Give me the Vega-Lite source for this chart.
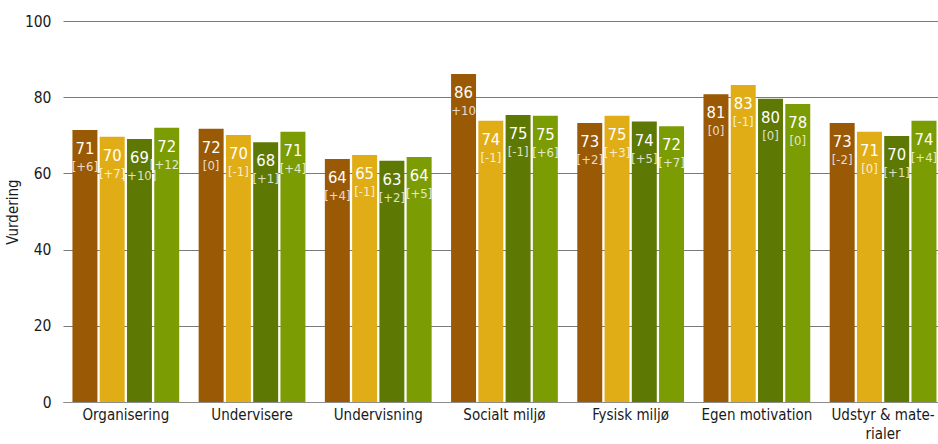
{
  "$schema": "https://vega.github.io/schema/vega-lite/v6.json",
  "autosize": "none",
  "width": 875,
  "height": 381,
  "padding": {"left": 63, "top": 21, "right": 0, "bottom": 42},
  "background": "white",
  "config": {
    "font": "DejaVu Sans Condensed",
    "view": {"stroke": null}
  },
  "data": {
    "values": [
      {"kategori": "Organisering", "serie": "S1", "vurdering": 71.4, "aendring": "[+6]"},
      {"kategori": "Organisering", "serie": "S2", "vurdering": 69.6, "aendring": "[+7]"},
      {"kategori": "Organisering", "serie": "S3", "vurdering": 69.0, "aendring": "[+10]"},
      {"kategori": "Organisering", "serie": "S4", "vurdering": 72.0, "aendring": "[+12]"},
      {"kategori": "Undervisere", "serie": "S1", "vurdering": 71.7, "aendring": "[0]"},
      {"kategori": "Undervisere", "serie": "S2", "vurdering": 70.1, "aendring": "[-1]"},
      {"kategori": "Undervisere", "serie": "S3", "vurdering": 68.2, "aendring": "[+1]"},
      {"kategori": "Undervisere", "serie": "S4", "vurdering": 70.9, "aendring": "[+4]"},
      {"kategori": "Undervisning", "serie": "S1", "vurdering": 63.8, "aendring": "[+4]"},
      {"kategori": "Undervisning", "serie": "S2", "vurdering": 64.8, "aendring": "[-1]"},
      {"kategori": "Undervisning", "serie": "S3", "vurdering": 63.3, "aendring": "[+2]"},
      {"kategori": "Undervisning", "serie": "S4", "vurdering": 64.3, "aendring": "[+5]"},
      {"kategori": "Socialt miljø", "serie": "S1", "vurdering": 86.1, "aendring": "[+10]"},
      {"kategori": "Socialt miljø", "serie": "S2", "vurdering": 73.8, "aendring": "[-1]"},
      {"kategori": "Socialt miljø", "serie": "S3", "vurdering": 75.3, "aendring": "[-1]"},
      {"kategori": "Socialt miljø", "serie": "S4", "vurdering": 75.1, "aendring": "[+6]"},
      {"kategori": "Fysisk miljø", "serie": "S1", "vurdering": 73.2, "aendring": "[+2]"},
      {"kategori": "Fysisk miljø", "serie": "S2", "vurdering": 75.1, "aendring": "[+3]"},
      {"kategori": "Fysisk miljø", "serie": "S3", "vurdering": 73.6, "aendring": "[+5]"},
      {"kategori": "Fysisk miljø", "serie": "S4", "vurdering": 72.4, "aendring": "[+7]"},
      {"kategori": "Egen motivation", "serie": "S1", "vurdering": 80.8, "aendring": "[0]"},
      {"kategori": "Egen motivation", "serie": "S2", "vurdering": 83.2, "aendring": "[-1]"},
      {"kategori": "Egen motivation", "serie": "S3", "vurdering": 79.6, "aendring": "[0]"},
      {"kategori": "Egen motivation", "serie": "S4", "vurdering": 78.2, "aendring": "[0]"},
      {"kategori": "Udstyr & materialer", "serie": "S1", "vurdering": 73.2, "aendring": "[-2]"},
      {"kategori": "Udstyr & materialer", "serie": "S2", "vurdering": 70.9, "aendring": "[0]"},
      {"kategori": "Udstyr & materialer", "serie": "S3", "vurdering": 69.8, "aendring": "[+1]"},
      {"kategori": "Udstyr & materialer", "serie": "S4", "vurdering": 73.8, "aendring": "[+4]"}
    ]
  },
  "encoding": {
    "x": {
      "field": "kategori",
      "type": "nominal",
      "sort": null,
      "scale": {"paddingInner": 0.154, "paddingOuter": 0.0435, "align": 0.86},
      "axis": {
        "title": null,
        "labelAngle": 0,
        "labelFontSize": 15,
        "labelColor": "#1a1a1a",
        "labelPadding": 5,
        "labelLineHeight": 19,
        "labelBaseline": "top",
        "ticks": false,
        "domainColor": "#8c8c8c",
        "domainWidth": 1,
        "labelExpr": "datum.value == 'Udstyr & materialer' ? ['Udstyr & mate-', 'rialer'] : datum.label"
      }
    },
    "xOffset": {
      "field": "serie",
      "type": "nominal",
      "scale": {"paddingInner": 0.084, "paddingOuter": 0}
    },
    "y": {
      "field": "vurdering",
      "type": "quantitative",
      "scale": {"domain": [0, 100], "nice": false},
      "axis": {
        "title": "Vurdering",
        "titleFontSize": 15,
        "titleFontWeight": "normal",
        "titleColor": "#1a1a1a",
        "titlePadding": 4,
        "values": [0, 20, 40, 60, 80, 100],
        "labelFontSize": 15.5,
        "labelColor": "#1a1a1a",
        "labelPadding": 12,
        "ticks": false,
        "domain": false,
        "grid": true,
        "gridColor": "#7a7a7a",
        "gridWidth": 1
      }
    }
  },
  "layer": [
    {
      "mark": {"type": "bar"},
      "encoding": {
        "color": {
          "field": "serie",
          "type": "nominal",
          "legend": null,
          "scale": {"domain": ["S1", "S2", "S3", "S4"], "range": ["#9a5905", "#e1ad17", "#5e7903", "#7b9c03"]}
        }
      }
    },
    {
      "mark": {"type": "text", "baseline": "alphabetic", "align": "center", "dy": 24, "fontSize": 16.5, "color": "white"},
      "encoding": {
        "text": {"field": "vurdering", "type": "quantitative", "format": ".0f"}
      }
    },
    {
      "mark": {"type": "text", "baseline": "alphabetic", "align": "center", "dy": 41, "fontSize": 13, "color": "white", "opacity": 0.78},
      "encoding": {
        "text": {"field": "aendring", "type": "nominal"}
      }
    }
  ]
}
